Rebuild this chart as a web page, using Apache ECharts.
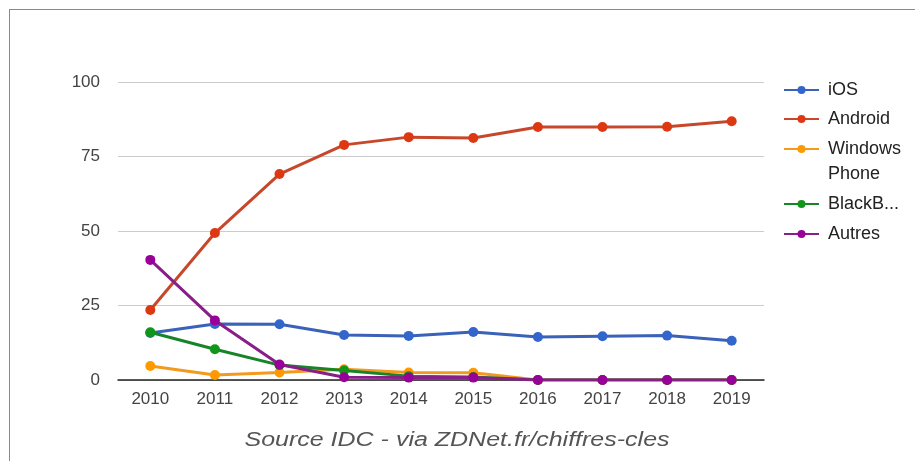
<!DOCTYPE html>
<html>
<head>
<meta charset="utf-8">
<script src="https://cdn.jsdelivr.net/npm/echarts@6/dist/echarts.min.js"></script>
<style>
html,body{margin:0;padding:0;background:#fff;}
#frame{position:absolute;left:9px;top:9px;width:906px;height:452px;border-top:1px solid #8a8a8a;border-left:1px solid #8a8a8a;}
#chart{position:absolute;left:0;top:0;width:915px;height:461px;}
</style>
</head>
<body>
<div id="frame"></div>
<div id="chart"></div>
<script>
const years = ['2010','2011','2012','2013','2014','2015','2016','2017','2018','2019'];
const iosValues = [15.8, 18.8, 18.7, 15.1, 14.8, 16.1, 14.4, 14.7, 14.9, 13.2];
const androidValues = [23.5, 49.3, 69.1, 78.9, 81.5, 81.2, 84.9, 84.9, 85.0, 86.8];
const windowsPhoneValues = [4.7, 1.7, 2.5, 3.6, 2.5, 2.4, 0, 0, 0, 0];
const blackberryValues = [16.0, 10.3, 5.0, 3.2, 1.3, 1.0, 0, 0, 0, 0];
const autresValues = [40.3, 20.0, 5.2, 0.9, 0.8, 0.8, 0, 0, 0, 0];
const seriesNames = ['iOS', 'Android', 'Windows Phone', 'BlackBerry', 'Autres'];
const yTicks = [0, 25, 50, 75, 100];
const sourceText = 'Source IDC - via ZDNet.fr/chiffres-cles';

const colors = ['#3366cc', '#dc3912', '#ff9900', '#109618', '#990099'];
const lineColors = ['#3a62b8', '#c6472a', '#f29a1e', '#18842a', '#881e88'];
const allValues = [iosValues, androidValues, windowsPhoneValues, blackberryValues, autresValues];
const FONT = '"Liberation Sans", Arial, sans-serif';

const chart = echarts.init(document.getElementById('chart'), null, {renderer: 'canvas'});

const legendCenters = [90, 119, 149, 204, 234];
const LH = 25;
const legends = seriesNames.map((name, i) => {
  const isWP = name === 'Windows Phone';
  const isBB = name === 'BlackBerry';
  return {
    orient: 'vertical',
    left: 783,
    top: isWP ? legendCenters[i] - 1.5 * LH : legendCenters[i] - LH / 2,
    padding: 0,
    itemWidth: 35,
    itemHeight: 10,
    itemGap: 0,
    data: [name],
    formatter: isWP ? ' \nWindows\nPhone' : (isBB ? 'BlackB...' : '{name}'),
    textStyle: {
      fontFamily: FONT,
      fontSize: 18,
      color: '#222',
      lineHeight: LH,
      padding: [0, 0, 0, 4]
    }
  };
});

chart.setOption({
  animation: false,
  color: colors,
  textStyle: {fontFamily: FONT},
  grid: {left: 118, right: 151, top: 82, bottom: 81},
  legend: legends,
  xAxis: {
    type: 'category',
    data: years,
    boundaryGap: true,
    axisLine: {show: true, lineStyle: {color: '#222', width: 1.5}},
    axisTick: {show: false},
    axisLabel: {fontFamily: FONT, fontSize: 17, color: '#444', margin: 11}
  },
  yAxis: {
    type: 'value',
    min: 0,
    max: 100,
    interval: 25,
    axisLine: {show: false},
    axisTick: {show: false},
    splitLine: {lineStyle: {color: '#cccccc', width: 1}},
    axisLabel: {
      fontFamily: FONT, fontSize: 17, color: '#444', margin: 18,
      formatter: v => yTicks.includes(v) ? String(v) : ''
    }
  },
  graphic: [{
    type: 'text',
    x: 457,
    y: 440,
    scaleX: 1.25,
    style: {
      text: sourceText,
      fontFamily: FONT,
      fontSize: 20,
      fontStyle: 'italic',
      fill: '#555',
      align: 'center',
      verticalAlign: 'middle'
    }
  }],
  series: seriesNames.map((name, i) => ({
    name: name,
    type: 'line',
    data: allValues[i],
    symbol: 'circle',
    symbolSize: 10,
    lineStyle: {width: 3, color: lineColors[i]},
    itemStyle: {color: colors[i]},
    z: 2 + i
  }))
});
</script>
</body>
</html>
